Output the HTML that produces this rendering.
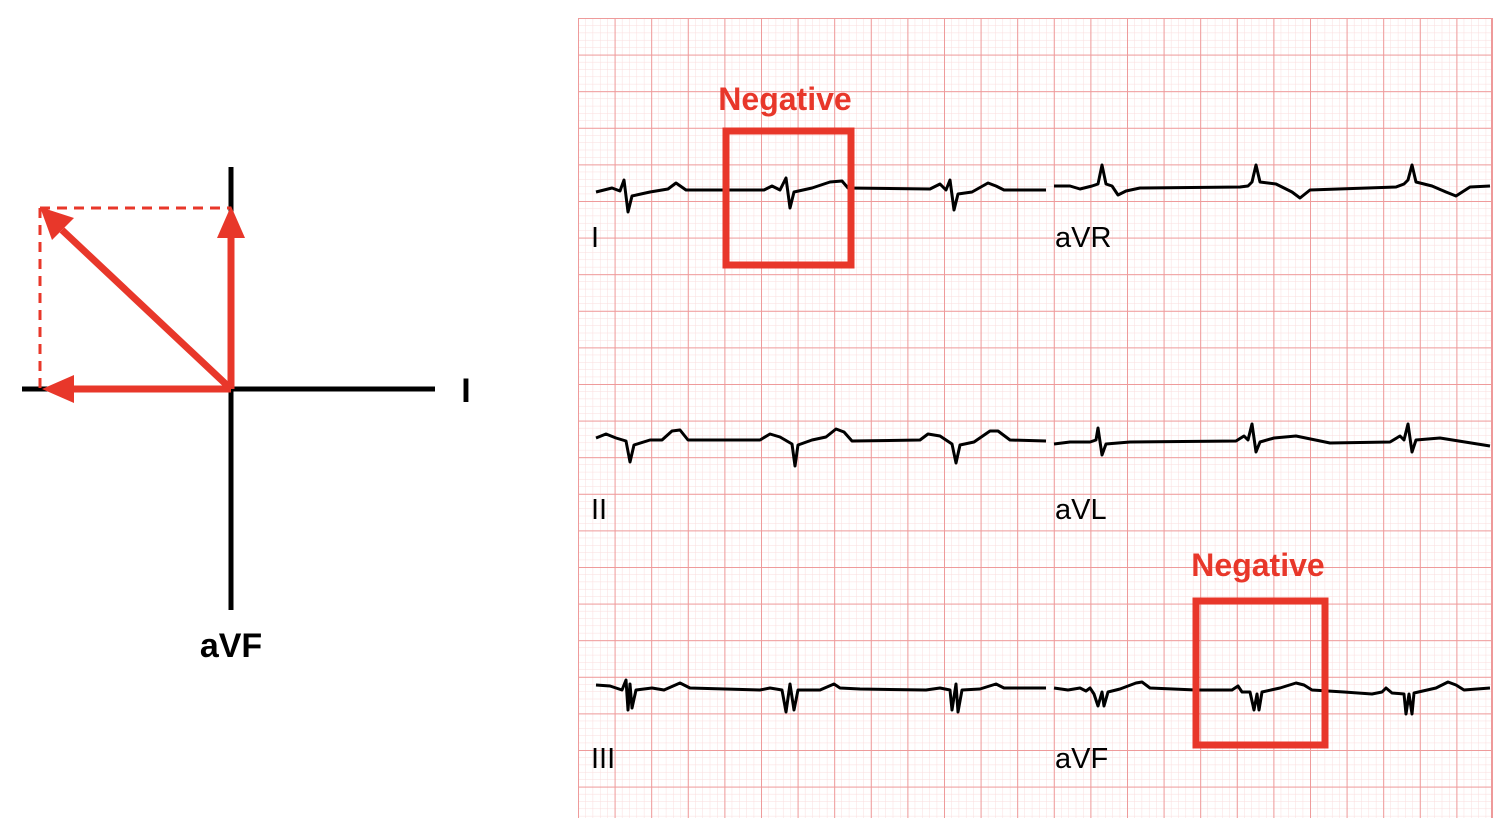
<!DOCTYPE html>
<html><head><meta charset="utf-8"><style>
html,body{margin:0;padding:0;background:#fff;}
svg{display:block;font-family:"Liberation Sans","DejaVu Sans",sans-serif;}
</style></head><body>
<svg width="1510" height="838" viewBox="0 0 1510 838" xmlns="http://www.w3.org/2000/svg">
<defs>
<pattern id="minor" x="578" y="18" width="7.32" height="7.32" patternUnits="userSpaceOnUse">
<path d="M0,0 L7.32,0 M0,0 L0,7.32" stroke="#fadcdc" stroke-width="1" fill="none"/>
</pattern>
<pattern id="major" x="578" y="18" width="36.6" height="36.6" patternUnits="userSpaceOnUse">
<path d="M0,0 L36.6,0 M0,0 L0,36.6" stroke="#ee9a9a" stroke-width="2" fill="none"/>
</pattern>
</defs>
<rect x="578" y="18" width="915" height="800" fill="url(#minor)"/>
<rect x="578" y="18" width="915" height="800" fill="url(#major)"/>
<line x1="1492" y1="18" x2="1492" y2="818" stroke="#ee9a9a" stroke-width="2"/>

<g fill="none" stroke="#000" stroke-width="3" stroke-linejoin="round">
<polyline points="596,192 612,188 620,191 624,180 628,212 632,196 650,192 668,189 676,183 686,190 764,190 772,186 780,190 786,178 790,208 794,192 812,188 830,182 842,181 848,188 930,189 940,184 946,190 950,180 954,210 958,194 972,192 988,183 996,186 1004,190 1046,190"/>
<polyline points="1054,186 1070,186 1080,189 1092,186 1098,184 1102,165 1106,184 1112,186 1118,195 1126,191 1140,188 1240,187 1248,186 1252,182 1256,165 1260,182 1276,184 1292,192 1300,198 1310,190 1396,187 1404,184 1408,180 1412,165 1416,182 1432,186 1446,192 1456,196 1470,187 1490,186"/>
<polyline points="596,438 606,434 616,438 626,441 630,462 634,445 650,440 662,440 672,431 680,430 688,440 760,440 770,434 780,437 792,444 795,466 798,445 812,440 826,437 836,429 844,432 852,441 920,440 928,434 940,436 952,444 956,463 960,445 974,442 990,431 998,431 1010,440 1046,441"/>
<polyline points="1054,444 1070,442 1090,442 1096,440 1098,428 1102,455 1106,444 1130,442 1236,441 1244,436 1248,440 1252,424 1256,452 1260,442 1274,438 1296,436 1330,443 1390,442 1400,436 1404,440 1408,424 1412,452 1416,440 1440,438 1490,446"/>
<polyline points="596,685 610,686 622,690 626,680 628,710 630,684 632,708 636,690 652,688 664,690 680,683 690,688 760,690 770,688 782,690 786,712 790,684 794,710 798,690 820,690 834,684 840,688 860,689 926,690 940,688 950,690 952,710 956,684 958,712 962,690 980,689 996,684 1004,688 1046,688"/>
<polyline points="1054,688 1068,690 1080,688 1086,691 1090,688 1094,694 1098,706 1102,692 1104,706 1108,692 1120,689 1136,683 1142,682 1150,688 1196,690 1232,690 1238,686 1242,692 1250,692 1254,710 1257,694 1259,710 1262,692 1280,688 1296,683 1304,685 1312,690 1344,692 1372,694 1382,692 1386,688 1392,693 1404,694 1406,714 1409,694 1412,714 1414,693 1436,688 1448,682 1456,685 1464,690 1490,688"/>
</g>

<g font-size="29" fill="#000">
<text x="591" y="247">I</text>
<text x="1055" y="247">aVR</text>
<text x="591" y="519">II</text>
<text x="1055" y="519">aVL</text>
<text x="591" y="768">III</text>
<text x="1055" y="768">aVF</text>
</g>

<g fill="none" stroke="#e8372a" stroke-width="7">
<rect x="726" y="131" width="125" height="134"/>
<rect x="1196" y="601" width="129" height="144"/>
</g>
<g fill="#e8372a" font-weight="bold" font-size="32" text-anchor="middle">
<text x="785" y="110">Negative</text>
<text x="1258" y="576">Negative</text>
</g>

<g stroke="#000" stroke-width="5">
<line x1="231" y1="167" x2="231" y2="610"/>
<line x1="22" y1="389" x2="435" y2="389"/>
</g>
<text x="466" y="402" font-size="34" font-weight="bold" text-anchor="middle">I</text>
<text x="231" y="657" font-size="34" font-weight="bold" text-anchor="middle">aVF</text>

<g stroke="#e8372a" stroke-width="3" stroke-dasharray="10,7" fill="none">
<line x1="40" y1="208" x2="231" y2="208"/>
<line x1="40" y1="208" x2="40" y2="389"/>
</g>
<g stroke="#e8372a" stroke-width="7" fill="none">
<line x1="231" y1="389" x2="231" y2="232"/>
<line x1="231" y1="389" x2="68" y2="389"/>
<line x1="231" y1="389" x2="62" y2="230"/>
</g>
<g fill="#e8372a">
<polygon points="231,206 245,238 217,238"/>
<polygon points="42,389 74,375 74,403"/>
<polygon points="40,207 74,218 52,240"/>
</g>
</svg>
</body></html>
